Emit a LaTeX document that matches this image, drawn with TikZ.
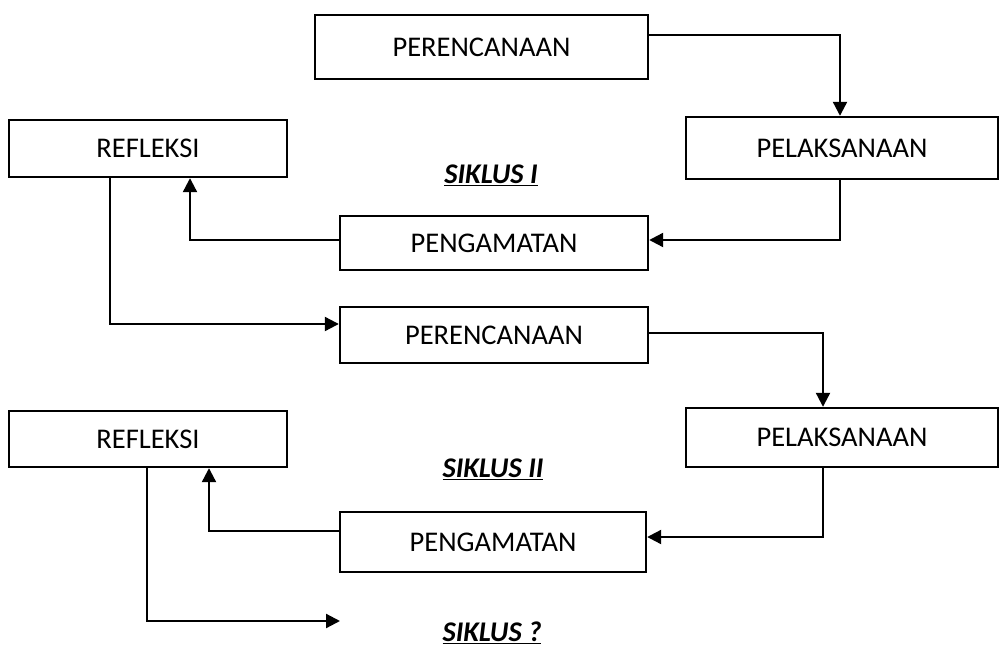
\documentclass[tikz,border=0pt]{standalone}
\usepackage{fontspec}
\setmainfont{Carlito}
\usepackage{tikz}
\usetikzlibrary{arrows.meta}

\begin{document}
\begin{tikzpicture}[x=1pt, y=-1pt,
  stagebox/.style={draw, line width=2.4pt, rectangle, inner sep=0pt, font=\fontsize{28.5}{34}\selectfont},
  flow/.style={-{Triangle[length=14pt, width=14pt]}, line width=2.2pt},
  cyclelabel/.style={font=\fontsize{28.5}{34}\selectfont\bfseries\itshape}]
\useasboundingbox (0,0) rectangle (1001,647);

% Siklus I
\node[stagebox, minimum width=333pt, minimum height=64pt] (plan1) at (481.5,47) {PERENCANAAN};
\node[stagebox, minimum width=312pt, minimum height=62pt] (act1) at (842,148) {PELAKSANAAN};
\node[stagebox, minimum width=278pt, minimum height=57pt] (refl1) at (148,148.5) {REFLEKSI};
\node[stagebox, minimum width=308pt, minimum height=54pt] (obs1) at (494,243) {PENGAMATAN};
\node[cyclelabel] (cyc1) at (491,175) {\underline{SIKLUS I}};

% Siklus II
\node[stagebox, minimum width=308pt, minimum height=56pt] (plan2) at (494,335) {PERENCANAAN};
\node[stagebox, minimum width=312pt, minimum height=59pt] (act2) at (842,437.5) {PELAKSANAAN};
\node[stagebox, minimum width=278pt, minimum height=56pt] (refl2) at (148,439) {REFLEKSI};
\node[stagebox, minimum width=306pt, minimum height=60pt] (obs2) at (493,542) {PENGAMATAN};
\node[cyclelabel] (cyc2) at (493,469) {\underline{SIKLUS II}};

% Next cycle
\coordinate (next) at (340,621);
\node[cyclelabel] (cyc3) at (492,633) {\underline{SIKLUS ?}};

% Arrows
\draw[flow] ([yshift=12pt]plan1.east) -| ([xshift=-2pt]act1.north);
\draw[flow] ([xshift=-2pt]act1.south) |- ([yshift=3pt]obs1.east);
\draw[flow] ([yshift=3pt]obs1.west) -| ([xshift=42pt]refl1.south);
\draw[flow] ([xshift=-38pt]refl1.south) |- ([yshift=11pt]plan2.west);
\draw[flow] ([yshift=2pt]plan2.east) -| ([xshift=-19pt]act2.north);
\draw[flow] ([xshift=-19pt]act2.south) |- ([yshift=5pt]obs2.east);
\draw[flow] ([yshift=11pt]obs2.west) -| ([xshift=61pt]refl2.south);
\draw[flow] ([xshift=-1pt]refl2.south) |- (next);
\end{tikzpicture}
\end{document}
